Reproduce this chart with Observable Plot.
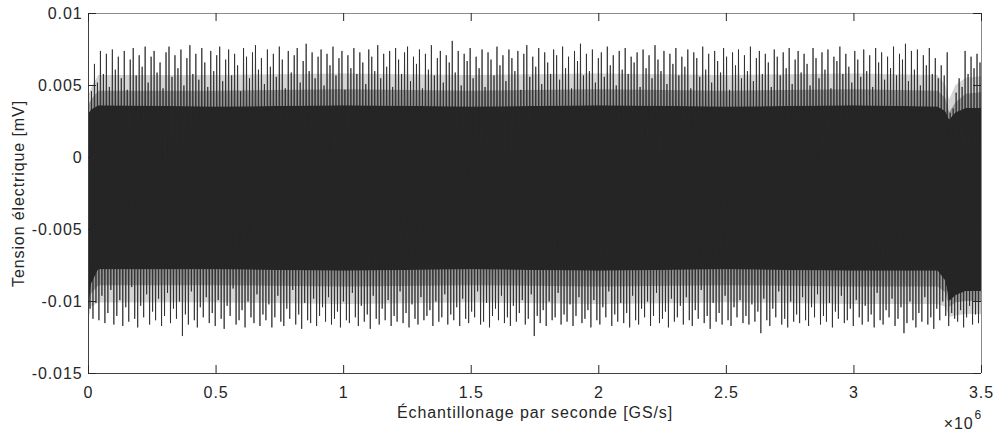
<!DOCTYPE html>
<html><head><meta charset="utf-8">
<script src="https://cdn.jsdelivr.net/npm/d3@7"></script>
<script src="https://cdn.jsdelivr.net/npm/@observablehq/plot@0.6"></script>
<style>body{margin:0;background:#fff} #chart{width:999px;height:434px}</style>
</head><body><div id="chart"></div>
<script>
// Upper tips of the signal (one per oscillation), read left to right
const topTips = [
0.0040,0.0046,0.0065,0.0052,0.0074,0.0058,0.0072,0.0049,0.0075,0.0061,0.0070,0.0055,0.0074,0.0047,0.0068,0.0076,0.0057,0.0071,0.0063,0.0077,
0.0052,0.0070,0.0074,0.0059,0.0066,0.0048,0.0073,0.0077,0.0056,0.0071,0.0062,0.0075,0.0050,0.0069,0.0078,0.0058,0.0072,0.0054,0.0076,0.0066,
0.0049,0.0074,0.0060,0.0071,0.0077,0.0053,0.0068,0.0075,0.0057,0.0072,0.0064,0.0046,0.0076,0.0070,0.0055,0.0073,0.0078,0.0061,0.0069,0.0051,
0.0075,0.0063,0.0072,0.0056,0.0077,0.0068,0.0048,0.0074,0.0059,0.0071,0.0076,0.0052,0.0067,0.0079,0.0060,0.0073,0.0055,0.0070,0.0075,0.0050,
0.0072,0.0064,0.0077,0.0057,0.0069,0.0074,0.0047,0.0071,0.0062,0.0076,0.0058,0.0073,0.0066,0.0051,0.0075,0.0070,0.0060,0.0078,0.0055,0.0072,
0.0063,0.0074,0.0049,0.0076,0.0068,0.0058,0.0073,0.0077,0.0053,0.0070,0.0065,0.0075,0.0048,0.0072,0.0061,0.0078,0.0057,0.0069,0.0074,0.0052,
0.0071,0.0066,0.0081,0.0059,0.0074,0.0050,0.0072,0.0067,0.0076,0.0055,0.0070,0.0062,0.0075,0.0049,0.0073,0.0068,0.0057,0.0077,0.0064,0.0071,
0.0053,0.0075,0.0069,0.0060,0.0074,0.0047,0.0072,0.0078,0.0056,0.0070,0.0063,0.0076,0.0051,0.0073,0.0066,0.0058,0.0075,0.0071,0.0054,0.0077,
0.0062,0.0070,0.0048,0.0074,0.0067,0.0079,0.0057,0.0072,0.0060,0.0075,0.0052,0.0069,0.0073,0.0056,0.0077,0.0064,0.0071,0.0050,0.0074,0.0061,
0.0076,0.0058,0.0070,0.0066,0.0073,0.0049,0.0075,0.0062,0.0071,0.0055,0.0078,0.0068,0.0060,0.0074,0.0051,0.0072,0.0065,0.0076,0.0057,0.0070,
0.0063,0.0075,0.0048,0.0073,0.0069,0.0056,0.0077,0.0061,0.0072,0.0052,0.0074,0.0067,0.0059,0.0076,0.0070,0.0047,0.0073,0.0064,0.0075,0.0055,
0.0071,0.0060,0.0077,0.0053,0.0069,0.0074,0.0058,0.0072,0.0066,0.0049,0.0075,0.0070,0.0057,0.0073,0.0062,0.0076,0.0051,0.0068,0.0074,0.0059,
0.0072,0.0065,0.0050,0.0076,0.0069,0.0055,0.0073,0.0061,0.0075,0.0048,0.0070,0.0067,0.0077,0.0058,0.0072,0.0063,0.0052,0.0074,0.0068,0.0056,
0.0075,0.0060,0.0071,0.0049,0.0076,0.0066,0.0073,0.0054,0.0070,0.0062,0.0077,0.0057,0.0072,0.0068,0.0079,0.0053,0.0074,0.0061,0.0075,0.0050,
0.0071,0.0064,0.0076,0.0058,0.0069,0.0055,0.0064,0.0057,0.0073,0.0031,0.0034,0.0045,0.0055,0.0049,0.0074,0.0058,0.0070,0.0062,0.0072,0.0066
];
// Lower tips of the signal (one per oscillation), read left to right
const bottomTips = [
-0.0105,-0.0112,-0.0101,-0.0113,-0.0096,-0.0115,-0.0108,-0.0092,-0.0116,-0.0110,-0.0099,-0.0117,-0.0104,-0.0114,-0.0090,-0.0112,-0.0118,-0.0103,-0.0111,-0.0095,
-0.0116,-0.0107,-0.0113,-0.0098,-0.0117,-0.0110,-0.0094,-0.0115,-0.0105,-0.0112,-0.0100,-0.0124,-0.0109,-0.0116,-0.0093,-0.0113,-0.0118,-0.0104,-0.0111,-0.0097,
-0.0115,-0.0108,-0.0117,-0.0099,-0.0112,-0.0119,-0.0103,-0.0110,-0.0091,-0.0116,-0.0113,-0.0106,-0.0118,-0.0100,-0.0111,-0.0115,-0.0095,-0.0117,-0.0109,-0.0113,
-0.0102,-0.0118,-0.0111,-0.0096,-0.0114,-0.0117,-0.0105,-0.0112,-0.0092,-0.0116,-0.0109,-0.0119,-0.0101,-0.0113,-0.0115,-0.0098,-0.0117,-0.0110,-0.0104,-0.0114,
-0.0097,-0.0116,-0.0112,-0.0107,-0.0118,-0.0100,-0.0113,-0.0115,-0.0094,-0.0111,-0.0117,-0.0103,-0.0114,-0.0109,-0.0119,-0.0096,-0.0112,-0.0116,-0.0105,-0.0113,
-0.0099,-0.0117,-0.0110,-0.0114,-0.0093,-0.0115,-0.0108,-0.0118,-0.0102,-0.0112,-0.0116,-0.0097,-0.0113,-0.0110,-0.0106,-0.0117,-0.0100,-0.0114,-0.0111,-0.0095,
-0.0116,-0.0109,-0.0113,-0.0104,-0.0117,-0.0098,-0.0112,-0.0115,-0.0107,-0.0111,-0.0093,-0.0116,-0.0114,-0.0101,-0.0118,-0.0110,-0.0105,-0.0113,-0.0096,-0.0115,
-0.0111,-0.0117,-0.0103,-0.0114,-0.0108,-0.0099,-0.0116,-0.0112,-0.0095,-0.0124,-0.0110,-0.0115,-0.0106,-0.0117,-0.0100,-0.0113,-0.0111,-0.0094,-0.0116,-0.0109,
-0.0114,-0.0102,-0.0117,-0.0110,-0.0097,-0.0115,-0.0112,-0.0106,-0.0118,-0.0099,-0.0113,-0.0116,-0.0104,-0.0111,-0.0093,-0.0117,-0.0109,-0.0114,-0.0101,-0.0115,
-0.0108,-0.0118,-0.0096,-0.0113,-0.0116,-0.0105,-0.0111,-0.0100,-0.0117,-0.0110,-0.0094,-0.0115,-0.0112,-0.0107,-0.0118,-0.0098,-0.0114,-0.0111,-0.0103,-0.0116,
-0.0097,-0.0113,-0.0117,-0.0106,-0.0112,-0.0092,-0.0115,-0.0110,-0.0119,-0.0101,-0.0114,-0.0108,-0.0116,-0.0096,-0.0113,-0.0117,-0.0104,-0.0111,-0.0099,-0.0115,
-0.0110,-0.0116,-0.0102,-0.0114,-0.0107,-0.0122,-0.0098,-0.0113,-0.0117,-0.0105,-0.0111,-0.0093,-0.0116,-0.0112,-0.0118,-0.0100,-0.0114,-0.0109,-0.0115,-0.0097,
-0.0113,-0.0117,-0.0104,-0.0111,-0.0095,-0.0116,-0.0110,-0.0114,-0.0101,-0.0118,-0.0107,-0.0112,-0.0096,-0.0115,-0.0113,-0.0105,-0.0117,-0.0099,-0.0111,-0.0116,
-0.0103,-0.0114,-0.0109,-0.0118,-0.0094,-0.0113,-0.0116,-0.0106,-0.0111,-0.0098,-0.0117,-0.0112,-0.0104,-0.0122,-0.0115,-0.0100,-0.0113,-0.0118,-0.0108,-0.0114,
-0.0097,-0.0116,-0.0111,-0.0119,-0.0105,-0.0113,-0.0100,-0.0110,-0.0117,-0.0108,-0.0112,-0.0114,-0.0106,-0.0118,-0.0111,-0.0103,-0.0116,-0.0109,-0.0115,-0.0112
];
// Dense (solid) core of the trace
const coreX      = [0, 12000, 40000, 500000, 1000000, 1500000, 2000000, 2500000, 3000000, 3330000, 3360000, 3375000, 3400000, 3440000, 3500000];
const coreTop    = [0.0030, 0.0033, 0.0036, 0.0035, 0.0036, 0.0035, 0.0036, 0.0035, 0.0036, 0.0035, 0.0032, 0.0026, 0.0031, 0.0034, 0.0034];
const coreBottom = [-0.0105, -0.0088, -0.0078, -0.0078, -0.0079, -0.0078, -0.0079, -0.0078, -0.0079, -0.0079, -0.0086, -0.0100, -0.0096, -0.0093, -0.0093];
// Dark band of overlapping spikes next to the core
const innerTop    = [0.0036, 0.0040, 0.0046, 0.0046, 0.0047, 0.0046, 0.0047, 0.0046, 0.0047, 0.0046, 0.0041, 0.0031, 0.0038, 0.0044, 0.0045];
const innerBottom = [-0.0109, -0.0095, -0.0089, -0.0089, -0.0090, -0.0089, -0.0090, -0.0089, -0.0090, -0.0090, -0.0094, -0.0104, -0.0101, -0.0100, -0.0100];
// Lighter band of overlapping spikes further out
const outerTop    = [0.0042, 0.0048, 0.0057, 0.0057, 0.0058, 0.0057, 0.0058, 0.0057, 0.0058, 0.0057, 0.0050, 0.0040, 0.0050, 0.0055, 0.0056];
const outerBottom = [-0.0114, -0.0104, -0.0101, -0.0101, -0.0102, -0.0101, -0.0102, -0.0101, -0.0102, -0.0102, -0.0104, -0.0111, -0.0110, -0.0109, -0.0109];

const xTicks = [0, 500000, 1000000, 1500000, 2000000, 2500000, 3000000, 3500000];
const xTickLabels = ["0", "0.5", "1", "1.5", "2", "2.5", "3", "3.5"];
const yTicks = [0.01, 0.005, 0, -0.005, -0.01, -0.015];
const yTickLabels = ["0.01", "0.005", "0", "-0.005", "-0.01", "-0.015"];
const xLabel = "Échantillonage par seconde [GS/s]";
const yLabel = "Tension électrique [mV]";
const xExponent = ["×10", "6"];

const xMax = 3500000;
const n = topTips.length;
const step = xMax / (2 * n - 1);
const signal = [];
for (let i = 0; i < n; i++) {
  signal.push({x: (2 * i) * step, y: topTips[i]});
  signal.push({x: (2 * i + 1) * step, y: bottomTips[i]});
}
const core = coreX.map((x, i) => ({
  x, top: coreTop[i], bottom: coreBottom[i],
  itop: innerTop[i], ibottom: innerBottom[i], otop: outerTop[i], obottom: outerBottom[i]
}));

const W = 999, H = 434, mL = 88, mR = 18, mT = 13, mB = 61;
const fw = W - mL - mR, fh = H - mT - mB;
const ink = "#262626";
const font = "'Liberation Sans', Arial, Helvetica, sans-serif";

const chart = Plot.plot({
  width: W, height: H,
  marginLeft: mL, marginRight: mR, marginTop: mT, marginBottom: mB,
  style: {fontFamily: font, fontSize: "16px", color: ink, background: "#fff", letterSpacing: "0.9px"},
  x: {domain: [0, xMax]},
  y: {domain: [-0.015, 0.01]},
  marks: [
    Plot.areaY(core, {x: "x", y1: "top", y2: "otop", fill: ink, fillOpacity: 0.2}),
    Plot.areaY(core, {x: "x", y1: "obottom", y2: "bottom", fill: ink, fillOpacity: 0.2}),
    Plot.areaY(core, {x: "x", y1: "top", y2: "itop", fill: ink, fillOpacity: 0.35}),
    Plot.areaY(core, {x: "x", y1: "ibottom", y2: "bottom", fill: ink, fillOpacity: 0.35}),
    Plot.areaY(core, {x: "x", y1: "bottom", y2: "top", fill: ink}),
    Plot.line(signal, {x: "x", y: "y", stroke: ink, strokeWidth: 0.8}),
    Plot.ruleY([0.01], {stroke: "#8c8c8c"}),
    Plot.ruleX([xMax], {stroke: "#8c8c8c"}),
    Plot.ruleY([-0.015], {stroke: "#404040"}),
    Plot.ruleX([0], {stroke: "#404040"}),
    Plot.tickX(xTicks, {x: d => d, stroke: ink, insetTop: fh - 8}),
    Plot.tickX(xTicks, {x: d => d, stroke: ink, insetBottom: fh - 8}),
    Plot.tickY(yTicks, {y: d => d, stroke: ink, insetRight: fw - 8}),
    Plot.tickY(yTicks, {y: d => d, stroke: ink, insetLeft: fw - 8}),
    Plot.axisX(xTicks, {tickSize: 0, tickPadding: 13, tickFormat: (d, i) => xTickLabels[i], label: null, fill: ink, fontSize: 16}),
    Plot.axisY(yTicks, {tickSize: 0, tickPadding: 6, tickFormat: (d, i) => yTickLabels[i], label: null, fill: ink, fontSize: 16}),
    Plot.text([xLabel], {frameAnchor: "bottom", dy: 39, textAnchor: "middle", text: d => d, fill: ink, fontSize: 16, lineAnchor: "middle"}),
    Plot.text([yLabel], {frameAnchor: "left", dx: -70, rotate: -90, textAnchor: "middle", text: d => d, fill: ink, fontSize: 16, lineAnchor: "middle"}),
    Plot.text([xExponent[0]], {frameAnchor: "bottom-right", dx: -8, dy: 50, textAnchor: "end", text: d => d, fill: ink, fontSize: 16, lineAnchor: "middle"}),
    Plot.text([xExponent[1]], {frameAnchor: "bottom-right", dx: -7, dy: 42, textAnchor: "start", text: d => d, fill: ink, fontSize: 12, lineAnchor: "middle"})
  ]
});
document.getElementById("chart").appendChild(chart);
</script>
</body></html>
